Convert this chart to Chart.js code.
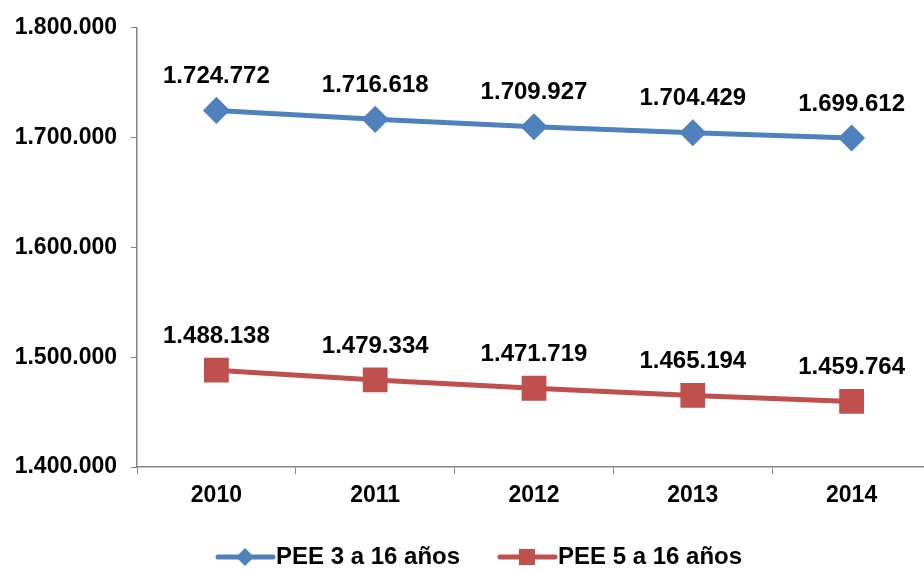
<!DOCTYPE html>
<html lang="es">
<head>
<meta charset="UTF-8">
<title>PEE</title>
<script src="https://cdn.jsdelivr.net/npm/chart.js"></script>
<style>
  html, body { margin: 0; padding: 0; background: #fff; overflow: hidden; }
  #wrap { width: 924px; height: 570px; overflow: hidden; }
</style>
</head>
<body>
<div id="wrap"><canvas id="chart" width="950" height="570"></canvas></div>
<script>
    const years = ['2010', '2011', '2012', '2013', '2014'];
    const pee3 = [1724772, 1716618, 1709927, 1704429, 1699612];
    const pee5 = [1488138, 1479334, 1471719, 1465194, 1459764];
    const seriesNames = ['PEE 3 a 16 años', 'PEE 5 a 16 años'];

    const FONT = "'Liberation Sans', Arial, sans-serif";
    const fmt = (v) => String(v).replace(/\B(?=(\d{3})+(?!\d))/g, '.');

    // etiquetas de valores encima de los puntos
    const valueLabels = {
        id: 'valueLabels',
        afterDatasetsDraw(chart) {
            const c = chart.ctx;
            c.save();
            c.font = 'bold 24px ' + FONT;
            c.fillStyle = '#000';
            c.textAlign = 'center';
            c.textBaseline = 'middle';
            chart.data.datasets.forEach((ds, i) => {
                chart.getDatasetMeta(i).data.forEach((pt, j) => {
                    c.fillText(fmt(ds.data[j]), pt.x, pt.y - 34);
                });
            });
            c.restore();
        }
    };

    // leyenda dibujada a mano (linea + marcador)
    const lineLegend = {
        id: 'lineLegend',
        afterDraw(chart) {
            const c = chart.ctx;
            const y = 557;
            const starts = [218, 500];
            c.save();
            c.font = 'bold 24px ' + FONT;
            c.textBaseline = 'middle';
            chart.data.datasets.forEach((ds, i) => {
                const x0 = starts[i];
                c.strokeStyle = ds.borderColor;
                c.lineWidth = 5;
                c.lineCap = 'round';
                c.beginPath();
                c.moveTo(x0, y);
                c.lineTo(x0 + 55, y);
                c.stroke();
                c.fillStyle = ds.borderColor;
                const cx = x0 + 27;
                if (ds.pointStyle === 'rectRot') {
                    c.beginPath();
                    c.moveTo(cx, y - 9);
                    c.lineTo(cx + 9, y);
                    c.lineTo(cx, y + 9);
                    c.lineTo(cx - 9, y);
                    c.closePath();
                    c.fill();
                } else {
                    c.fillRect(cx - 8, y - 8, 16, 16);
                }
                c.fillStyle = '#000';
                c.fillText(ds.label, x0 + 58, y);
            });
            c.restore();
        }
    };

    new Chart(document.getElementById('chart'), {
        type: 'line',
        data: {
            labels: years,
            datasets: [
                { label: seriesNames[0], data: pee3, borderColor: '#4F81BD', backgroundColor: '#4F81BD',
                  borderWidth: 5, pointStyle: 'rectRot', pointRadius: 10, pointHoverRadius: 10, tension: 0 },
                { label: seriesNames[1], data: pee5, borderColor: '#C0504D', backgroundColor: '#C0504D',
                  borderWidth: 5, pointStyle: 'rect', pointRadius: 14, pointHoverRadius: 14, tension: 0 }
            ]
        },
        options: {
            responsive: false,
            animation: false,
            layout: { padding: { top: 25, right: 0, bottom: 40, left: 0 } },
            plugins: { legend: { display: false }, tooltip: { enabled: false } },
            scales: {
                x: {
                    offset: true,
                    grid: { offset: true, drawOnChartArea: false, drawTicks: true, tickLength: 7, color: '#868686' },
                    border: { color: '#868686', width: 1.5 },
                    ticks: { color: '#000', padding: 8, font: { family: FONT, size: 23, weight: 'bold' } },
                    afterFit(scale) { scale.height = 63; }
                },
                y: {
                    min: 1400000, max: 1800000,
                    grid: { drawOnChartArea: false, drawTicks: true, tickLength: 6, color: '#868686' },
                    border: { color: '#868686', width: 1.5 },
                    ticks: { stepSize: 100000, color: '#000', padding: 14,
                             font: { family: FONT, size: 23, weight: 'bold' },
                             callback: (v) => fmt(v) },
                    afterFit(scale) { scale.width = 137; }
                }
            }
        },
        plugins: [valueLabels, lineLegend]
    });
</script>
</body>
</html>
